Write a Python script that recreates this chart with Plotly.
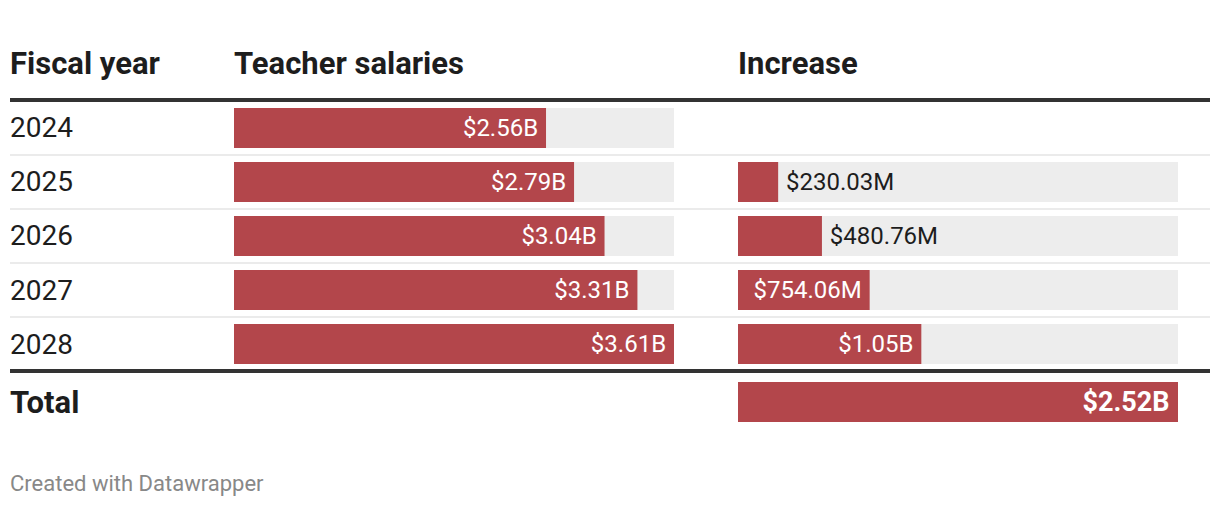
import plotly.graph_objects as go

# ---- data (values in millions of dollars) ----
years = ["2024", "2025", "2026", "2027", "2028"]
salaries = [2560, 2790, 3040, 3310, 3610]
increase = [None, 230.03, 480.76, 754.06, 1050]
total_label = "Total"
total_increase = 2520
col_headers = ["Fiscal year", "Teacher salaries", "Increase"]
footer = "Created with Datawrapper"

W, H = 1220, 506
RED = "#b3464b"
GREY = "#ededed"
TXT = "#1d1d1d"
FONT = "Roboto"
PAD = "\u2009"  # thin space used as extra label padding


def fmt(v):
    if v is None:
        return ""
    if v >= 1000:
        return f"${v/1000:.2f}B"
    return f"${v:.2f}M"


def px_x(p):
    return p / W


def px_y(p):
    return 1 - p / H


sal_max = max(salaries)
inc_max = total_increase
n = len(years)


def labels(vals, vmax):
    pos, cols, txt = [], [], []
    for v in vals:
        if v is not None and v / vmax > 0.25:
            pos.append("inside")
            cols.append("white")
            txt.append(fmt(v) + PAD)
        else:
            pos.append("outside")
            cols.append(TXT)
            txt.append(PAD + fmt(v) if v is not None else "")
    return pos, cols, txt


fig = go.Figure()

# background grey bars
fig.add_trace(go.Bar(y=years, x=[sal_max] * n, orientation="h",
                     marker=dict(color=GREY, line=dict(width=0)),
                     xaxis="x", yaxis="y", hoverinfo="skip"))
fig.add_trace(go.Bar(y=years, x=[inc_max if v is not None else None for v in increase],
                     orientation="h", marker=dict(color=GREY, line=dict(width=0)),
                     xaxis="x2", yaxis="y", hoverinfo="skip"))

sp, sc, st = labels(salaries, sal_max)
fig.add_trace(go.Bar(y=years, x=salaries, orientation="h",
                     marker=dict(color=RED, line=dict(width=0)),
                     text=st, textposition=sp,
                     insidetextanchor="end", constraintext="none",
                     textfont=dict(family=FONT, size=24, color=sc),
                     xaxis="x", yaxis="y", cliponaxis=False))

ip, ic, it = labels(increase, inc_max)
fig.add_trace(go.Bar(y=years, x=increase, orientation="h",
                     marker=dict(color=RED, line=dict(width=0)),
                     text=it, textposition=ip,
                     insidetextanchor="end", constraintext="none",
                     textfont=dict(family=FONT, size=24, color=ic),
                     xaxis="x2", yaxis="y", cliponaxis=False))

fig.add_trace(go.Bar(y=[total_label], x=[total_increase], orientation="h",
                     marker=dict(color=RED, line=dict(width=0)),
                     text=[f"<b>{fmt(total_increase)}</b>{PAD}"], textposition="inside",
                     insidetextanchor="end", constraintext="none",
                     textfont=dict(family=FONT, size=27, color="white"),
                     xaxis="x2", yaxis="y2", cliponaxis=False))

annotations = []
# column headers
for txt, xp in zip(col_headers, [8, 232, 736]):
    annotations.append(dict(text=f"<b>{txt}</b>", x=px_x(xp), y=px_y(64), xref="paper", yref="paper",
                            xanchor="left", yanchor="middle", showarrow=False,
                            font=dict(family=FONT, size=31, color=TXT)))
# row labels
for i, yv in enumerate(years):
    annotations.append(dict(text=yv, x=px_x(8), y=i, xref="paper", yref="y",
                            xanchor="left", yanchor="middle", showarrow=False,
                            font=dict(family=FONT, size=28, color=TXT)))
annotations.append(dict(text=f"<b>{total_label}</b>", x=px_x(8), y=0, xref="paper", yref="y2",
                        xanchor="left", yanchor="middle", showarrow=False,
                        font=dict(family=FONT, size=31, color=TXT)))
annotations.append(dict(text=footer, x=px_x(8), y=px_y(483), xref="paper", yref="paper",
                        xanchor="left", yanchor="middle", showarrow=False,
                        font=dict(family=FONT, size=22, color="#888888")))

shapes = []
# thin separators between rows
for i in range(n - 1):
    shapes.append(dict(type="line", xref="paper", yref="y", x0=px_x(10), x1=px_x(1210),
                       y0=i + 0.5, y1=i + 0.5, line=dict(color="#ebebeb", width=2), layer="below"))
# thick rules (above and below the year rows)
for yp in [100, 371]:
    shapes.append(dict(type="line", xref="paper", yref="paper", x0=px_x(10), x1=px_x(1210),
                       y0=px_y(yp), y1=px_y(yp), line=dict(color="#333333", width=4)))

fig.update_layout(
    width=W, height=H, margin=dict(l=0, r=0, t=0, b=0),
    paper_bgcolor="white", plot_bgcolor="white",
    barmode="overlay", bargap=0.26, showlegend=False,
    font=dict(family=FONT),
    xaxis=dict(domain=[px_x(234), px_x(674)], range=[0, sal_max], visible=False, fixedrange=True),
    xaxis2=dict(domain=[px_x(738), px_x(1178)], range=[0, inc_max], visible=False, fixedrange=True,
                anchor="y"),
    yaxis=dict(domain=[px_y(371), px_y(101)], type="category", categoryarray=years,
               categoryorder="array", range=[n - 0.5, -0.5], autorange=False,
               visible=False, fixedrange=True),
    yaxis2=dict(domain=[px_y(429), px_y(375)], type="category", categoryarray=[total_label],
                categoryorder="array", range=[0.5, -0.5], autorange=False,
                visible=False, fixedrange=True, anchor="x2"),
    annotations=annotations, shapes=shapes,
)

fig.write_html("out.html", config=dict(displayModeBar=False))
